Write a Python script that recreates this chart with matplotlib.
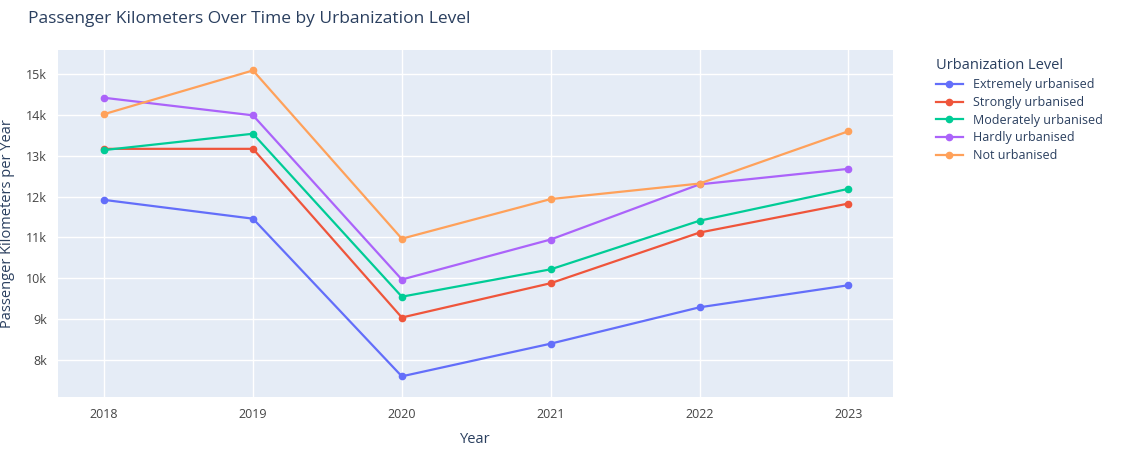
import matplotlib
matplotlib.use("Agg")
import matplotlib.pyplot as plt
from matplotlib.ticker import FuncFormatter

years = [2018, 2019, 2020, 2021, 2022, 2023]
levels = ["Extremely urbanised", "Strongly urbanised", "Moderately urbanised",
          "Hardly urbanised", "Not urbanised"]
extremely = [11920, 11460, 7600, 8400, 9290, 9830]
strongly = [13170, 13170, 9040, 9880, 11120, 11830]
moderately = [13140, 13540, 9550, 10220, 11410, 12190]
hardly = [14420, 13990, 9970, 10950, 12300, 12680]
not_urb = [14020, 15090, 10970, 11940, 12320, 13600]
series = [extremely, strongly, moderately, hardly, not_urb]
colors = ["#636efa", "#EF553B", "#00cc96", "#ab63fa", "#FFA15A"]

plt.rcParams['font.family'] = ['Open Sans', 'DejaVu Sans']
txt = "#2a3f5f"

fig = plt.figure(figsize=(11.21, 4.5), dpi=100)
ax = fig.add_axes([58 / 1121, 53 / 450, 835 / 1121, 347 / 450])
ax.set_facecolor("#E5ECF6")
for name, vals, c in zip(levels, series, colors):
    ax.plot(years, vals, color=c, lw=1.6, marker="o", ms=4.5, label=name)

ax.set_xlim(2017.69, 2023.3)
ax.set_ylim(7094, 15590)
ax.set_yticks(range(8000, 15001, 1000))
ax.yaxis.set_major_formatter(FuncFormatter(lambda v, p: f"{int(v/1000)}k"))
ax.grid(color="white", lw=1)
ax.set_axisbelow(True)
for s in ax.spines.values():
    s.set_visible(False)
ax.tick_params(length=0, colors="#444", labelsize=9, pad=8)
ax.set_xlabel("Year", color=txt, fontsize=10.5, labelpad=8)
ax.set_ylabel("Passenger Kilometers per Year", color=txt, fontsize=10.5, labelpad=8)
fig.text(28 / 1121, 1 - 19 / 450, "Passenger Kilometers Over Time by Urbanization Level",
         color=txt, fontsize=12.5, va="center")
leg = ax.legend(title="Urbanization Level", loc="upper left", bbox_to_anchor=(1.045, 0.99),
                frameon=False, fontsize=9, title_fontsize=10.5, labelcolor=txt,
                handlelength=2.2, borderaxespad=0, labelspacing=0.38)
leg.get_title().set_color(txt)
leg._legend_box.align = "left"
fig.savefig("out.png", dpi=100)
